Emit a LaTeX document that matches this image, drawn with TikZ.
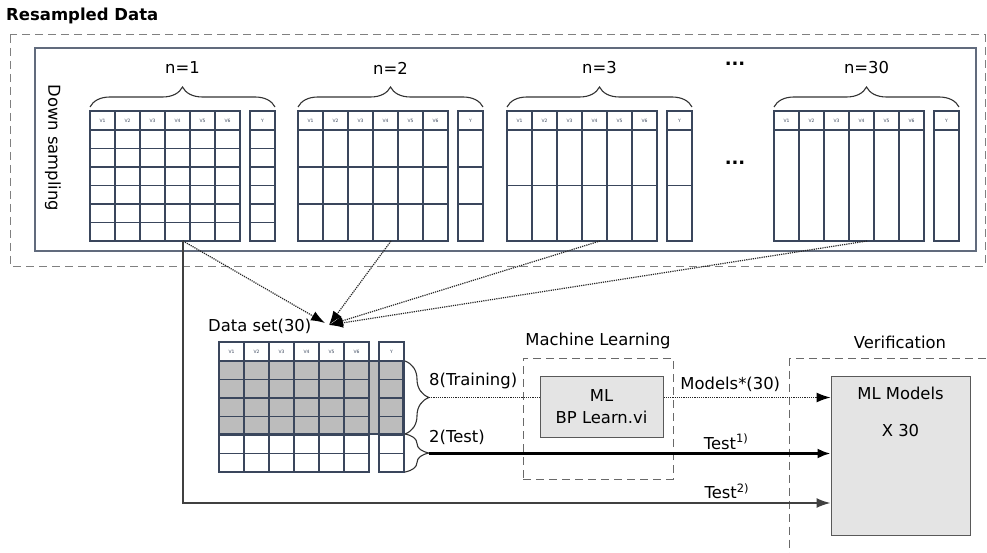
\documentclass[tikz,border=0pt]{standalone}
\usepackage{fontspec}
\setmainfont{DejaVu Sans}
\usepackage{tikz}
\usetikzlibrary{arrows.meta, positioning, decorations.pathreplacing}
\definecolor{tablecol}{RGB}{58,70,92}
\definecolor{boxfill}{RGB}{228,228,228}
\definecolor{shadecol}{RGB}{188,188,188}
\definecolor{framecol}{RGB}{105,105,105}

% one sample table: #1,#2 top-left corner, #3 rows, #4 name
\newcommand{\sampletable}[4]{%
  \begin{scope}[shift={(#1,#2)}]
    \foreach \c in {1,...,6}
      \node[colhead] (#4-v\c) at ({25*\c-12.5},9.5) {V\c};
    \node[colhead] (#4-y) at (172.5,9.5) {Y};
    \draw[tablegrid] (0,0) rectangle (150,130) (160,0) rectangle (185,130);
    \draw[tablegrid] (0,19) -- (150,19) (160,19) -- (185,19);
    \foreach \c in {25,50,...,125}
      \draw[tablegrid] (\c,0) -- (\c,130);
    \ifnum#3>1
      \foreach \r in {2,...,#3}
        \draw[tablegrid] (0,{19+111*(\r-1)/#3}) -- (150,{19+111*(\r-1)/#3})
                     (160,{19+111*(\r-1)/#3}) -- (185,{19+111*(\r-1)/#3});
    \fi
    \coordinate (#4-out) at (93,130);
  \end{scope}}

\begin{document}
\begin{tikzpicture}[x=1pt, y=-1pt,
    lbl/.style={font=\fontsize{16.4}{19.7}\selectfont, inner sep=3pt},
    colhead/.style={font=\fontsize{4.5}{5}\selectfont, text=tablecol, inner sep=0pt},
    tablegrid/.style={draw=tablecol, line width=1.3pt},
    topbrace/.style={decorate, decoration={brace, amplitude=20pt}, draw=black!80, line width=1.1pt},
    sidebrace/.style={decorate, decoration={brace, amplitude=24pt}, draw=black!80, line width=1.1pt},
    frame/.style={draw=framecol, line width=1pt, dash pattern=on 8pt off 5pt},
    mlbox/.style={rectangle, draw=black!65, line width=1pt, fill=boxfill, align=center,
      font=\fontsize{16.4}{19.7}\selectfont},
    feed/.style={densely dotted, draw=black!85, line width=1.2pt,
      -{Latex[length=14pt, width=10pt, black]}},
    trainline/.style={densely dotted, draw=black!85, line width=1.2pt},
    testone/.style={draw=black, line width=2.4pt, -{Latex[length=13pt, width=10pt]}},
    testtwo/.style={draw=black!75, line width=1.8pt, -{Latex[length=14pt, width=10pt]}}
  ]
  \useasboundingbox (0,0) rectangle (987,553);

  % resampled data panel
  \node[font=\fontsize{16.5}{19}\selectfont\bfseries, anchor=west, inner sep=0pt] (title) at (6,16) {Resampled Data};
  \draw[frame, draw=black!50] (10,35) rectangle (985,266);
  \draw[draw=tablecol!80, line width=1.2pt] (35,48) rectangle (976,251);
  \node[lbl, rotate=-90] (downlbl) at (53,148) {Down sampling};

  \foreach \x/\rows/\tname/\lab in {90/6/a/1, 298/3/b/2, 507/2/c/3, 774/1/d/30} {
    \sampletable{\x}{111}{\rows}{\tname}
    \draw[topbrace] (\x,107) -- (\x+185,107);
    \node[lbl] (\tname-n) at (\x+92.5,68) {n=\lab};
  }
  \node[lbl, font=\fontsize{18}{20}\selectfont\bfseries] (dotsup) at (735,64) {...};
  \node[lbl, font=\fontsize{18}{20}\selectfont\bfseries] (dotsmid) at (735,163) {...};

  % data set
  \coordinate (merge1) at (325,323);
  \coordinate (merge) at (329,325);
  \node[lbl, anchor=west] (dslbl) at (205,326) {Data set(30)};
  \fill[shadecol] (219,361) rectangle (403,434);
  \sampletable{219}{342}{6}{ds}
  \draw[tablegrid] (219,361) rectangle (403,434);

  \draw[feed] (a-out) -- (merge1);
  \draw[feed] (b-out) -- (merge);
  \draw[feed] (c-out) -- (merge);
  \draw[feed] (d-out) -- (merge);

  \draw[sidebrace] (405,361) -- (405,434);
  \draw[sidebrace] (405,434) -- (405,472);
  \coordinate (train) at (429,397.5);
  \coordinate (test) at (429,453.5);
  \node[lbl, anchor=west] (trainlbl) at (426,381) {8(Training)};
  \node[lbl, anchor=west] (testlbl) at (426,437) {2(Test)};

  % machine learning
  \node[frame, minimum width=150pt, minimum height=121pt] (mlframe) at (598,418.5) {};
  \node[lbl, above=5pt of mlframe] (mltitle) {Machine Learning};
  \node[mlbox, minimum width=123pt, minimum height=61pt] (ml) at (601.5,406.5) {ML\\[2pt]BP Learn.vi};

  % verification
  \node[frame, anchor=north west, minimum width=230pt, minimum height=230pt] (verframe) at (789,358) {};
  \node[lbl, above=6pt of verframe.north west, xshift=111pt] (vertitle) {Verification};
  \node[mlbox, minimum width=139pt, minimum height=159pt] (models) at (900.5,455.5) {};
  \node[lbl, align=center] (modeltext) at (900.5,412) {ML Models\\[17pt]X 30};

  \draw[trainline] (train) -- (train -| ml.west);
  \draw[feed] (train -| ml.east) -- node[lbl, above, pos=0.4, yshift=2pt] (modelslbl) {Models*(30)} (train -| models.west);
  \draw[testone] (test) -- node[lbl, above, pos=0.74] (test1lbl) {Test\textsuperscript{1)}} (test -| models.west);
  \draw[testtwo] (a-out) |- node[lbl, above, pos=0.92] (test2lbl) {Test\textsuperscript{2)}} ([yshift=-47.5pt]models.west);
\end{tikzpicture}
\end{document}
